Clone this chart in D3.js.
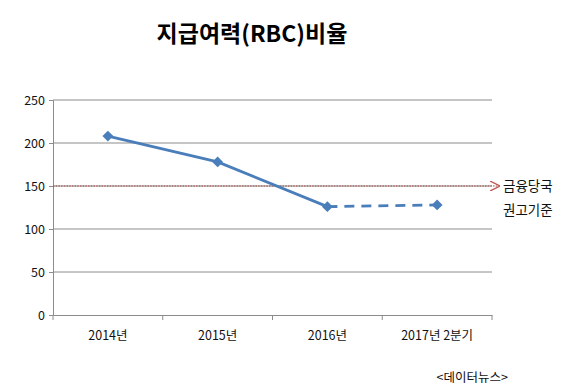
<!DOCTYPE html>
<html>
<head>
<meta charset="utf-8">
<script src="https://cdn.jsdelivr.net/npm/d3@7"></script>
<style>
  body { margin: 0; background: #fff; }
  text { font-family: "Noto Sans CJK KR", "Noto Sans", sans-serif; }
</style>
</head>
<body>
<svg id="chart" width="580" height="388"></svg>
<script>
  // data
  var categories = ['2014년', '2015년', '2016년', '2017년 2분기'];
  var rbcValues = [208, 178, 126, 128];
  var yTicks = [0, 50, 100, 150, 200, 250];
  var guideValue = 150;
  var guideLabel = ['금융당국', '권고기준'];

  var svg = d3.select('#chart');
  var margin = {left: 53, right: 88, top: 100, bottom: 73};
  var width = 580 - margin.left - margin.right;
  var height = 388 - margin.top - margin.bottom;
  var blue = '#4a7ebb';

  var defs = svg.append('defs');
  defs.append('marker')
    .attr('id', 'arrow')
    .attr('viewBox', '0 0 10 10')
    .attr('refX', 10).attr('refY', 5)
    .attr('markerWidth', 10).attr('markerHeight', 10)
    .attr('markerUnits', 'userSpaceOnUse')
    .attr('orient', 'auto')
    .append('path')
    .attr('d', 'M0,0 L10,5 L0,10')
    .attr('fill', 'none')
    .attr('stroke', '#c0504d')
    .attr('stroke-width', 1.3);

  svg.append('text')
    .attr('x', 252).attr('y', 42)
    .attr('text-anchor', 'middle')
    .attr('font-size', 23)
    .attr('font-weight', 'bold')
    .text('지급여력(RBC)비율');

  var g = svg.append('g').attr('transform', 'translate(' + margin.left + ',' + margin.top + ')');

  var x = d3.scaleBand().domain(categories).range([0, width]);
  var y = d3.scaleLinear().domain([0, 250]).range([height, 0]);

  // gridlines
  g.selectAll('.grid').data(yTicks.slice(1)).enter()
    .append('line')
    .attr('x1', 0).attr('x2', width)
    .attr('y1', function(d) { return y(d); })
    .attr('y2', function(d) { return y(d); })
    .attr('stroke', '#8c8c8c')
    .attr('stroke-width', 1);

  var yAxis = g.append('g')
    .call(d3.axisLeft(y).tickValues(yTicks).tickSize(4).tickPadding(4));
  yAxis.select('.domain').attr('stroke', '#8c8c8c');
  yAxis.selectAll('.tick line').attr('stroke', '#8c8c8c');
  yAxis.selectAll('text').attr('font-size', 12.5).attr('fill', '#111')
    .style('font-family', '"Noto Sans CJK KR", sans-serif');

  var xAxis = g.append('g')
    .attr('transform', 'translate(0,' + height + ')')
    .call(d3.axisBottom(x).tickSize(0).tickPadding(16));
  xAxis.select('.domain').attr('stroke', '#8c8c8c');
  xAxis.selectAll('text').attr('font-size', 12.5).attr('fill', '#111')
    .style('font-family', '"Noto Sans CJK KR", sans-serif');
  // category boundary ticks
  var bounds = categories.map(function(c) { return x(c); }).concat([width]);
  xAxis.selectAll('.bound').data(bounds).enter()
    .append('line')
    .attr('x1', function(d) { return d; }).attr('x2', function(d) { return d; })
    .attr('y1', 0).attr('y2', 5)
    .attr('stroke', '#8c8c8c');

  // guide line at 150
  g.append('line')
    .attr('x1', 0).attr('x2', width + 8)
    .attr('y1', y(guideValue)).attr('y2', y(guideValue))
    .attr('stroke', '#a0463f')
    .attr('stroke-width', 1.2)
    .attr('stroke-dasharray', '1.5,1.2')
    .attr('marker-end', 'url(#arrow)');

  g.selectAll('.guide-label').data(guideLabel).enter()
    .append('text')
    .attr('x', width + 11)
    .attr('y', function(d, i) { return y(guideValue) + 5 + i * 24; })
    .attr('font-size', 13.5)
    .attr('fill', '#111')
    .text(function(d) { return d; });

  var cx = function(d, i) { return x(categories[i]) + x.bandwidth() / 2; };
  var pts = rbcValues.map(function(v, i) { return [cx(v, i), y(v)]; });
  var line = d3.line();

  g.append('path')
    .attr('d', line(pts.slice(0, 3)))
    .attr('fill', 'none')
    .attr('stroke', blue)
    .attr('stroke-width', 2.8);
  g.append('path')
    .attr('d', line(pts.slice(2)))
    .attr('fill', 'none')
    .attr('stroke', blue)
    .attr('stroke-width', 2.8)
    .attr('stroke-dasharray', '10,7');

  g.selectAll('.pt').data(pts).enter()
    .append('path')
    .attr('transform', function(d) { return 'translate(' + d[0] + ',' + d[1] + ')'; })
    .attr('d', d3.symbol().type(d3.symbolDiamond2).size(75))
    .attr('fill', blue);

  svg.append('text')
    .attr('x', 508).attr('y', 382)
    .attr('text-anchor', 'end')
    .attr('font-size', 12.5)
    .attr('fill', '#111')
    .text('<데이터뉴스>');
</script>
</body>
</html>
